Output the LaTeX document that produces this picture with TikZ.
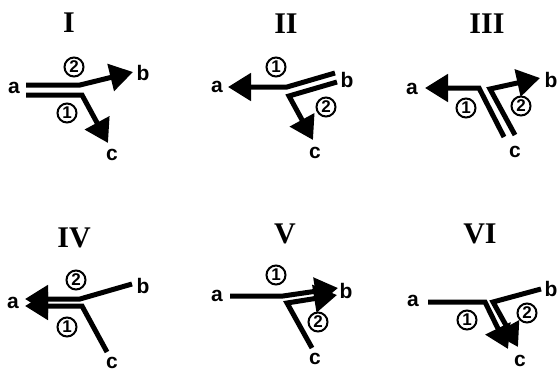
\documentclass[tikz,border=0pt]{standalone}
\usepackage{fontspec}
\setmainfont{Liberation Serif}
\setsansfont{Liberation Sans}
\usetikzlibrary{arrows.meta}

\begin{document}
\begin{tikzpicture}[
      x=1pt, y=-1pt,
      ttl/.style = {font=\fontsize{30}{30}\selectfont\bfseries, inner sep=0pt},
      lbl/.style = {font=\sffamily\bfseries\fontsize{21}{21}\selectfont, inner sep=0pt},
      num/.style = {draw, circle, line width=2pt, inner sep=0pt, minimum size=19pt,
                    font=\sffamily\bfseries\fontsize{17}{17}\selectfont},
      seg/.style = {line width=5pt},
      arr/.style = {seg, -{Triangle[length=23pt,width=27pt]}}
    ]
    \useasboundingbox (0,0) rectangle (559,372);

    % Panel I
    \node[ttl] (tI) at (69,23) {I};
    \node[lbl] (aI) at (14,88) {a};
    \node[lbl] (bI) at (143,73) {b};
    \node[lbl] (cI) at (112,155) {c};
    \node[num] (nI2) at (74,67) {2};
    \node[num] (nI1) at (67,113) {1};
    \coordinate (Iu) at (26,85);
    \coordinate (Ij) at (80,85);
    \coordinate (Ib) at (133,72);
    \coordinate (Il) at (26,95);
    \coordinate (Ik) at (82,95);
    \coordinate (Ic) at (108,143);
    \draw[arr] (Iu) -- (Ij) -- (Ib);
    \draw[arr] (Il) -- (Ik) -- (Ic);

    % Panel II
    \node[ttl] (tII) at (286,24) {II};
    \node[lbl] (aII) at (217,87) {a};
    \node[lbl] (bII) at (347,80) {b};
    \node[lbl] (cII) at (315,153) {c};
    \node[num] (nII1) at (276,67) {1};
    \node[num] (nII2) at (326,107) {2};
    \coordinate (IIb) at (335,73);
    \coordinate (IIj) at (287,87);
    \coordinate (IIa) at (228,87);
    \coordinate (IIe) at (337,82);
    \coordinate (IIk) at (289,96);
    \coordinate (IIc) at (313,140);
    \draw[arr] (IIb) -- (IIj) -- (IIa);
    \draw[arr] (IIe) -- (IIk) -- (IIc);

    % Panel III
    \node[ttl] (tIII) at (487,24) {III};
    \node[lbl] (aIII) at (412,89) {a};
    \node[lbl] (bIII) at (551,80) {b};
    \node[lbl] (cIII) at (515,152) {c};
    \node[num] (nIII1) at (466,108) {1};
    \node[num] (nIII2) at (521,106) {2};
    \coordinate (IIIc) at (504,137);
    \coordinate (IIIj) at (479,88);
    \coordinate (IIIa) at (425,88);
    \coordinate (IIIe) at (515,135);
    \coordinate (IIIk) at (490,89);
    \coordinate (IIIb) at (540,78);
    \draw[arr] (IIIc) -- (IIIj) -- (IIIa);
    \draw[arr] (IIIe) -- (IIIk) -- (IIIb);

    % Panel IV
    \node[ttl] (tIV) at (74,238) {IV};
    \node[lbl] (aIV) at (13,303) {a};
    \node[lbl] (bIV) at (143,286) {b};
    \node[lbl] (cIV) at (112,363) {c};
    \node[num] (nIV2) at (76,280) {2};
    \node[num] (nIV1) at (67,327) {1};
    \coordinate (IVb) at (132,284);
    \coordinate (IVj) at (80,299);
    \coordinate (IVa) at (25,299);
    \coordinate (IVc) at (107,352);
    \coordinate (IVk) at (82,306);
    \coordinate (IVe) at (25,306);
    \draw[arr] (IVb) -- (IVj) -- (IVa);
    \draw[arr] (IVc) -- (IVk) -- (IVe);

    % Panel V
    \node[ttl] (tV) at (285,234) {V};
    \node[lbl] (aV) at (217,296) {a};
    \node[lbl] (bV) at (346,291) {b};
    \node[lbl] (cV) at (315,359) {c};
    \node[num] (nV1) at (276,275) {1};
    \node[num] (nV2) at (318,322) {2};
    \coordinate (Va) at (230,296);
    \coordinate (Vj) at (283,296);
    \coordinate (Vb) at (338,288);
    \coordinate (Vc) at (312,348);
    \coordinate (Vk) at (287,303);
    \coordinate (Ve) at (337,295);
    \draw[arr] (Va) -- (Vj) -- (Vb);
    \draw[arr] (Vc) -- (Vk) -- (Ve);

    % Panel VI
    \node[ttl] (tVI) at (480,234) {VI};
    \node[lbl] (aVI) at (413,301) {a};
    \node[lbl] (bVI) at (551,289) {b};
    \node[lbl] (cVI) at (520,361) {c};
    \node[num] (nVI1) at (467,320) {1};
    \node[num] (nVI2) at (527,313) {2};
    \coordinate (VIa) at (428,302);
    \coordinate (VIj) at (485,302);
    \coordinate (VIc) at (508,349);
    \coordinate (VIb) at (541,289);
    \coordinate (VIk) at (493,302);
    \coordinate (VIe) at (518,347);
    \draw[arr] (VIa) -- (VIj) -- (VIc);
    \draw[arr] (VIb) -- (VIk) -- (VIe);

  \end{tikzpicture}
\end{document}
